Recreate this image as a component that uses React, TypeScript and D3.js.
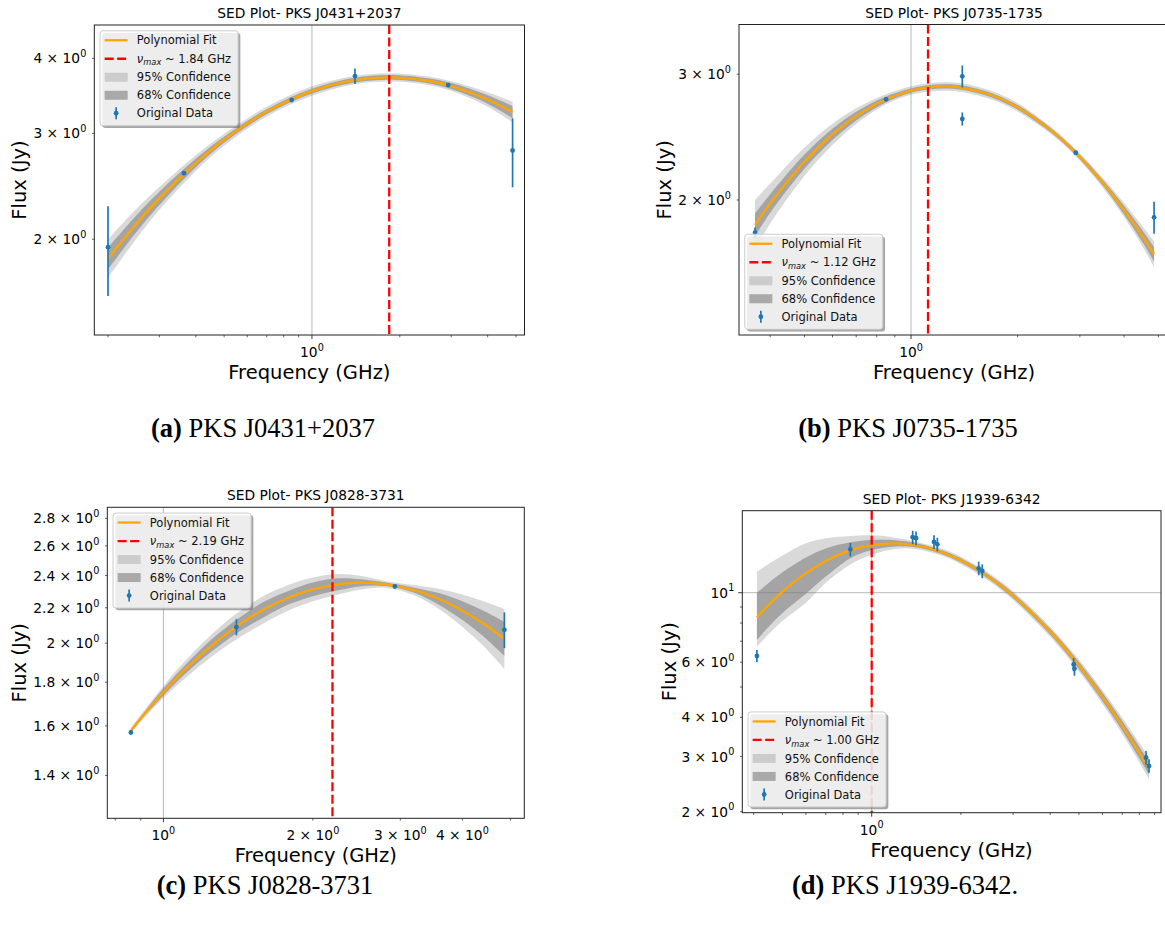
import React from "react";
import * as d3 from "d3";

// ---------------- Panel (a) PKS J0431+2037 ----------------
const freqA = [0.2, 0.364, 0.852, 1.404, 2.93, 4.87];
const fluxA = [1.94, 2.576, 3.41, 3.737, 3.61, 2.81];
const errA = [0.33, 0.02, 0.02, 0.11, 0.02, 0.37];
const fitFreqA = [0.2, 0.25, 0.3, 0.4, 0.5, 0.7, 1.0, 1.4, 1.84, 2.5, 3.0, 4.0, 4.87];
const fitFluxA = [1.858, 2.121, 2.339, 2.678, 2.928, 3.262, 3.529, 3.68, 3.719, 3.671, 3.597, 3.417, 3.255];
const band95A = [0.032, 0.025, 0.019, 0.013, 0.01, 0.008, 0.008, 0.007, 0.007, 0.007, 0.008, 0.012, 0.017];
const band68A = [0.018, 0.014, 0.011, 0.007, 0.005, 0.004, 0.004, 0.004, 0.004, 0.004, 0.005, 0.007, 0.01];

// ---------------- Panel (b) PKS J0735-1735 ----------------
const freqB = [0.3625, 0.85, 1.396, 1.396, 2.92, 4.86];
const fluxB = [1.8, 2.767, 2.98, 2.597, 2.329, 1.891];
const errB = [0.03, 0.015, 0.105, 0.055, 0.015, 0.097];
const fitFreqB = [0.3625, 0.4, 0.5, 0.6, 0.7, 0.85, 1.0, 1.12, 1.25, 1.4, 1.7, 2.0, 2.5, 2.92, 3.5, 4.0, 4.5, 4.86];
const fitFluxB = [1.845, 1.977, 2.263, 2.471, 2.621, 2.767, 2.846, 2.875, 2.884, 2.871, 2.801, 2.697, 2.497, 2.329, 2.108, 1.935, 1.781, 1.679];
const band95B = [0.035, 0.028, 0.02, 0.015, 0.011, 0.007, 0.006, 0.006, 0.006, 0.006, 0.006, 0.006, 0.005, 0.005, 0.007, 0.01, 0.014, 0.018];
const band68B = [0.016, 0.013, 0.01, 0.008, 0.006, 0.004, 0.003, 0.003, 0.003, 0.003, 0.003, 0.003, 0.003, 0.003, 0.004, 0.006, 0.008, 0.01];

// ---------------- Panel (c) PKS J0828-3731 ----------------
const freqC = [0.86, 1.403, 2.925, 4.86];
const fluxC = [1.572, 2.088, 2.33, 2.073];
const errC = [0.01, 0.045, 0.01, 0.1];
const fitFreqC = [0.86, 0.9, 1.0, 1.1, 1.25, 1.4, 1.6, 1.8, 2.0, 2.25, 2.5, 2.8, 3.2, 3.6, 4.0, 4.4, 4.86];
const fitFluxC = [1.579, 1.632, 1.753, 1.857, 1.987, 2.09, 2.193, 2.265, 2.312, 2.344, 2.354, 2.344, 2.307, 2.251, 2.183, 2.11, 2.023];
const band95C = [0.003, 0.004, 0.007, 0.01, 0.013, 0.015, 0.016, 0.015, 0.014, 0.012, 0.008, 0.004, 0.006, 0.012, 0.019, 0.026, 0.035];
const band68C = [0.002, 0.002, 0.004, 0.005, 0.007, 0.008, 0.009, 0.008, 0.008, 0.007, 0.004, 0.002, 0.003, 0.007, 0.011, 0.015, 0.02];
const yTicksC = [1.4, 1.6, 1.8, 2.0, 2.2, 2.4, 2.6, 2.8];

// ---------------- Panel (d) PKS J1939-6342 ----------------
const freqD = [0.41, 0.847, 1.375, 1.411, 1.622, 1.665, 2.296, 2.36, 4.8, 4.83, 8.42, 8.62];
const fluxD = [6.28, 13.75, 15.03, 14.92, 14.52, 14.27, 11.96, 11.73, 5.9, 5.72, 2.975, 2.8];
const errD = [0.28, 0.67, 0.75, 0.75, 0.72, 0.7, 0.6, 0.6, 0.29, 0.29, 0.15, 0.14];
const fitFreqD = [0.41, 0.45, 0.5, 0.6, 0.7, 0.85, 1.0, 1.2, 1.4, 1.7, 2.0, 2.5, 3.0, 4.0, 5.0, 6.0, 7.0, 8.0, 8.62];
const fitFluxD = [8.35, 9.165, 10.08, 11.55, 12.63, 13.67, 14.19, 14.37, 14.18, 13.53, 12.68, 11.18, 9.78, 7.51, 5.857, 4.651, 3.76, 3.086, 2.748];
const band95UpD = [0.145, 0.13, 0.115, 0.095, 0.072, 0.045, 0.031, 0.018, 0.012, 0.011, 0.012, 0.013, 0.014, 0.016, 0.019, 0.022, 0.026, 0.031, 0.035];
const band95DnD = [0.094, 0.094, 0.094, 0.095, 0.07, 0.045, 0.031, 0.018, 0.012, 0.011, 0.012, 0.013, 0.014, 0.016, 0.019, 0.022, 0.026, 0.031, 0.035];
const band68UpD = [0.0785, 0.07, 0.062, 0.05, 0.04, 0.025, 0.016, 0.01, 0.007, 0.006, 0.007, 0.007, 0.008, 0.009, 0.011, 0.013, 0.015, 0.018, 0.02];
const band68DnD = [0.0725, 0.07, 0.068, 0.066, 0.05, 0.025, 0.016, 0.01, 0.007, 0.006, 0.007, 0.007, 0.008, 0.009, 0.011, 0.013, 0.015, 0.018, 0.02];

const FONT = "'DejaVu Sans', 'Liberation Sans', sans-serif";
const SERIF = "'Liberation Serif', 'DejaVu Serif', serif";
const C0 = "#1f77b4";

type Frame = { l: number; r: number; t: number; b: number };
interface PanelDef {
  key: string;
  title: string;
  captionTag: string;
  captionText: string;
  captionX: number;
  captionY: number;
  frame: Frame;
  xDomain: [number, number];
  yDomain: [number, number];
  xLabeled: number[];
  yLabeled: number[] | null;
  yCustom?: number[];
  legendPos: "ul" | "ll";
  vmax: number;
  vmaxText: string;
  ylabelX: number;
  freq: number[];
  flux: number[];
  err: number[];
  fitFreq: number[];
  fitFlux: number[];
  b95u: number[];
  b95d: number[];
  b68u: number[];
  b68d: number[];
}

const panels: PanelDef[] = [
  {
    key: "a", title: "SED Plot- PKS J0431+2037", captionTag: "(a)", captionText: " PKS J0431+2037",
    captionX: 263, captionY: 437,
    frame: { l: 94.3, r: 524.5, t: 25, b: 335 }, xDomain: [0.1795, 5.35], yDomain: [1.386, 4.545],
    xLabeled: [1], yLabeled: [2, 3, 4], legendPos: "ul", vmax: 1.84, vmaxText: "1.84", ylabelX: 19.5,
    freq: freqA, flux: fluxA, err: errA, fitFreq: fitFreqA, fitFlux: fitFluxA,
    b95u: band95A, b95d: band95A, b68u: band68A, b68d: band68A,
  },
  {
    key: "b", title: "SED Plot- PKS J0735-1735", captionTag: "(b)", captionText: " PKS J0735-1735",
    captionX: 908, captionY: 437,
    frame: { l: 739, r: 1169.2, t: 24.5, b: 335 }, xDomain: [0.3266, 5.363], yDomain: [1.294, 3.522],
    xLabeled: [1], yLabeled: [2, 3], legendPos: "ll", vmax: 1.117, vmaxText: "1.12", ylabelX: 664.5,
    freq: freqB, flux: fluxB, err: errB, fitFreq: fitFreqB, fitFlux: fitFluxB,
    b95u: band95B, b95d: band95B, b68u: band68B, b68d: band68B,
  },
  {
    key: "c", title: "SED Plot- PKS J0828-3731", captionTag: "(c)", captionText: " PKS J0828-3731",
    captionX: 265, captionY: 894,
    frame: { l: 107.3, r: 524.3, t: 507.3, b: 818.3 }, xDomain: [0.771, 5.33], yDomain: [1.247, 2.885],
    xLabeled: [1, 2, 3, 4], yLabeled: null, yCustom: yTicksC, legendPos: "ul", vmax: 2.19, vmaxText: "2.19", ylabelX: 19.5,
    freq: freqC, flux: fluxC, err: errC, fitFreq: fitFreqC, fitFlux: fitFluxC,
    b95u: band95C, b95d: band95C, b68u: band68C, b68d: band68C,
  },
  {
    key: "d", title: "SED Plot- PKS J1939-6342", captionTag: "(d)", captionText: " PKS J1939-6342.",
    captionX: 905, captionY: 894,
    frame: { l: 742.3, r: 1161, t: 510.7, b: 812.7 }, xDomain: [0.366, 9.46], yDomain: [1.985, 18.27],
    xLabeled: [1], yLabeled: [2, 3, 4, 6, 10], legendPos: "ll", vmax: 1.0, vmaxText: "1.00", ylabelX: 669,
    freq: freqD, flux: fluxD, err: errD, fitFreq: fitFreqD, fitFlux: fitFluxD,
    b95u: band95UpD, b95d: band95DnD, b68u: band68UpD, b68d: band68DnD,
  },
];

function logTicks(domain: [number, number]): number[] {
  const out: number[] = [];
  const e0 = Math.floor(Math.log10(domain[0]));
  const e1 = Math.ceil(Math.log10(domain[1]));
  for (let e = e0; e <= e1; e++) {
    for (let k = 1; k <= 9; k++) {
      const v = +(k * Math.pow(10, e)).toPrecision(6);
      if (v >= domain[0] && v <= domain[1]) out.push(v);
    }
  }
  return out;
}

function isMajor(v: number) {
  const l = Math.log10(v);
  return Math.abs(l - Math.round(l)) < 1e-6;
}

function tickParts(v: number) {
  const e = Math.floor(Math.log10(v) + 1e-9);
  const m = +(v / Math.pow(10, e)).toFixed(2);
  return { prefix: m === 1 ? "" : `${m} \u00d7 `, exp: String(e) };
}

const TICK_FS = 13.8;

function TickLabel({ x, y, v, anchor }: { x: number; y: number; v: number; anchor: "end" | "middle" }) {
  const { prefix, exp } = tickParts(v);
  return (
    <text x={x} y={y} textAnchor={anchor} fontFamily={FONT} fontSize={TICK_FS} fill="#000">
      <tspan>{prefix}10</tspan>
      <tspan dy={-0.45 * TICK_FS} fontSize={TICK_FS * 0.7}>{exp}</tspan>
    </text>
  );
}

function Legend({ x, y, vmaxText }: { x: number; y: number; vmaxText: string }) {
  const fs = 11.5;
  const w = 138;
  const h = 95;
  const rows = [9.5, 28, 46.5, 64.5, 82.5].map((o) => y + o);
  const hx0 = x + 4.6;
  const hx1 = x + 27.6;
  const hxc = (hx0 + hx1) / 2;
  const tx = x + 36.8;
  const tb = 4.1;
  return (
    <g>
      <rect x={x + 2.3} y={y + 2.3} width={w} height={h} rx={3} fill="#4d4d4d" fillOpacity={0.5} />
      <rect x={x} y={y} width={w} height={h} rx={3} fill="#ffffff" fillOpacity={0.8} stroke="#cccccc" strokeWidth={1} />
      <line x1={hx0} x2={hx1} y1={rows[0]} y2={rows[0]} stroke="#FFA500" strokeWidth={2.3} />
      <line x1={hx0} x2={hx1} y1={rows[1]} y2={rows[1]} stroke="#FF0000" strokeWidth={2.3} strokeDasharray="9,3.5" />
      <rect x={hx0} y={rows[2] - 4.5} width={hx1 - hx0} height={9} fill="#808080" fillOpacity={0.3} />
      <rect x={hx0} y={rows[3] - 4.5} width={hx1 - hx0} height={9} fill="#808080" fillOpacity={0.62} />
      <line x1={hxc} x2={hxc} y1={rows[4] - 6} y2={rows[4] + 6} stroke={C0} strokeWidth={1.7} />
      <circle cx={hxc} cy={rows[4]} r={2.4} fill={C0} />
      <g fontFamily={FONT} fontSize={fs} fill="#111">
        <text x={tx} y={rows[0] + tb}>Polynomial Fit</text>
        <text x={tx} y={rows[1] + tb}>
          <tspan fontStyle="italic">{"\u03bd"}</tspan>
          <tspan fontStyle="italic" fontSize={fs * 0.72} dy={2.6}>max</tspan>
          <tspan dy={-2.6}>{` ~ ${vmaxText} GHz`}</tspan>
        </text>
        <text x={tx} y={rows[2] + tb}>95% Confidence</text>
        <text x={tx} y={rows[3] + tb}>68% Confidence</text>
        <text x={tx} y={rows[4] + tb}>Original Data</text>
      </g>
    </g>
  );
}

function Panel({ p }: { p: PanelDef }) {
  const { l, r, t, b } = p.frame;
  const xs = d3.scaleLog().domain(p.xDomain).range([l, r]);
  const ys = d3.scaleLog().domain(p.yDomain).range([b, t]);
  const idx = p.fitFreq.map((_, i) => i);
  const curve = d3.curveCatmullRom.alpha(0.5);

  const area = (up: number[], dn: number[]) =>
    d3
      .area<number>()
      .x((i) => xs(p.fitFreq[i]))
      .y0((i) => ys(p.fitFlux[i] * Math.pow(10, -dn[i])))
      .y1((i) => ys(p.fitFlux[i] * Math.pow(10, up[i])))
      .curve(curve)(idx) || "";

  const fitLine =
    d3
      .line<number>()
      .x((i) => xs(p.fitFreq[i]))
      .y((i) => ys(p.fitFlux[i]))
      .curve(curve)(idx) || "";

  const xTicks = logTicks(p.xDomain);
  const yTicks = p.yCustom ? p.yCustom : logTicks(p.yDomain);
  const yLabeled = p.yLabeled ? p.yLabeled : yTicks;
  const gridX = xTicks.filter(isMajor);
  const gridY = yTicks.filter(isMajor);
  const clipId = `clip-${p.key}`;
  const cx = (l + Math.min(r, 1169.2)) / 2;
  const legendX = l + 5.75;
  const legendY = p.legendPos === "ul" ? t + 5.75 : b - 5.75 - 95;
  const axisColor = "#222";

  return (
    <g>
      <defs>
        <clipPath id={clipId}>
          <rect x={l} y={t} width={r - l} height={b - t} />
        </clipPath>
      </defs>
      <text x={cx} y={t - 6.9} textAnchor="middle" fontFamily={FONT} fontSize={13.8} fill="#000">
        {p.title}
      </text>
      <g clipPath={`url(#${clipId})`}>
        {gridX.map((v) => (
          <line key={`gx${v}`} x1={xs(v)} x2={xs(v)} y1={t} y2={b} stroke="#b0b0b0" strokeWidth={0.9} />
        ))}
        {gridY.map((v) => (
          <line key={`gy${v}`} x1={l} x2={r} y1={ys(v)} y2={ys(v)} stroke="#b0b0b0" strokeWidth={0.9} />
        ))}
        <path d={area(p.b95u, p.b95d)} fill="#808080" fillOpacity={0.3} />
        <path d={area(p.b68u, p.b68d)} fill="#808080" fillOpacity={0.6} />
        <path d={fitLine} fill="none" stroke="#FFA500" strokeWidth={2.3} />
        <line x1={xs(p.vmax)} x2={xs(p.vmax)} y1={t} y2={b} stroke="#FF0000" strokeWidth={2.3} strokeDasharray="9,3.5" />
        {p.freq.map((f, i) => (
          <g key={`d${i}`}>
            <line x1={xs(f)} x2={xs(f)} y1={ys(p.flux[i] + p.err[i])} y2={ys(p.flux[i] - p.err[i])} stroke={C0} strokeWidth={1.7} />
            <circle cx={xs(f)} cy={ys(p.flux[i])} r={2.4} fill={C0} />
          </g>
        ))}
      </g>
      {/* frame */}
      <rect x={l} y={t} width={r - l} height={b - t} fill="none" stroke={axisColor} strokeWidth={1} />
      {/* x ticks */}
      {xTicks.map((v) => {
        const major = isMajor(v);
        const x = xs(v);
        return (
          <g key={`xt${v}`}>
            <line x1={x} x2={x} y1={b} y2={b + (major ? 4 : 2.3)} stroke={axisColor} strokeWidth={major ? 0.9 : 0.7} />
            {p.xLabeled.some((q) => Math.abs(q - v) < 1e-9) && <TickLabel x={x} y={b + 22} v={v} anchor="middle" />}
          </g>
        );
      })}
      {/* y ticks */}
      {yTicks.map((v) => {
        const major = isMajor(v);
        const y = ys(v);
        return (
          <g key={`yt${v}`}>
            <line x1={l} x2={l - (major ? 4 : 2.3)} y1={y} y2={y} stroke={axisColor} strokeWidth={major ? 0.9 : 0.7} />
            {yLabeled.some((q) => Math.abs(q - v) < 1e-9) && <TickLabel x={l - 8} y={y + 5} v={v} anchor="end" />}
          </g>
        );
      })}
      <text x={cx} y={b + 44} textAnchor="middle" fontFamily={FONT} fontSize={19.5} fill="#000">
        Frequency (GHz)
      </text>
      <text
        transform={`translate(${p.ylabelX},${(t + b) / 2}) rotate(-90)`}
        textAnchor="middle"
        dominantBaseline="central"
        fontFamily={FONT}
        fontSize={19.5}
        fill="#000"
      >
        Flux (Jy)
      </text>
      <Legend x={legendX} y={legendY} vmaxText={p.vmaxText} />
      <text x={p.captionX} y={p.captionY} textAnchor="middle" fontFamily={SERIF} fontSize={26.5} fill="#000">
        <tspan fontWeight="bold">{p.captionTag}</tspan>
        <tspan>{p.captionText}</tspan>
      </text>
    </g>
  );
}

export default function App() {
  return (
    <svg
      width={1165}
      height={928}
      viewBox="0 0 1165 928"
      style={{ position: "absolute", left: 0, top: 0, background: "#fff" }}
    >
      <rect x={0} y={0} width={1165} height={928} fill="#fff" />
      {panels.map((p) => (
        <Panel key={p.key} p={p} />
      ))}
    </svg>
  );
}
